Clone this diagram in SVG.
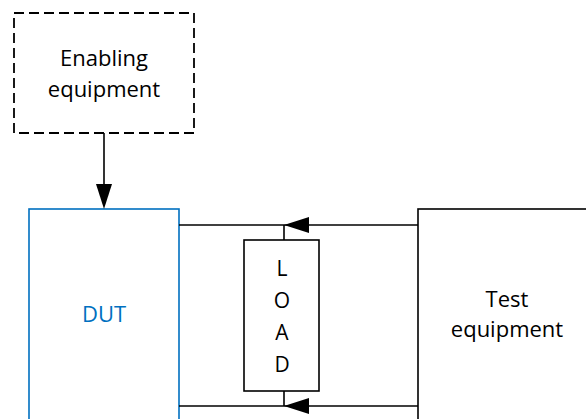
<svg xmlns="http://www.w3.org/2000/svg" width="586" height="419" viewBox="0 0 586 419">
<style>
  .lbl { font-family: "Open Sans", "Noto Sans", sans-serif; font-size: 22px; fill: #000; text-anchor: middle; }
  .ld { font-size: 21px; }
  .box { fill: #fff; stroke: #000; stroke-width: 1.6; }
  .wire { fill: none; stroke: #000; stroke-width: 1.6; }
  .head { fill: #000; stroke: none; }
</style>
<rect width="586" height="419" fill="#fff"/>
<g id="enabling">
  <rect x="14" y="13" width="180" height="120" fill="#fff" stroke="#000" stroke-width="1.8" stroke-dasharray="10,5"/>
  <text class="lbl" x="104" y="66">Enabling</text>
  <text class="lbl" x="104" y="97">equipment</text>
</g>
<g id="dut">
  <rect x="29" y="209" width="150" height="220" fill="#fff" stroke="#0070C0" stroke-width="1.6"/>
  <text class="lbl" x="104" y="322" style="fill:#0070C0">DUT</text>
</g>
<g id="test">
  <rect x="418" y="209" width="180" height="220" class="box"/>
  <text class="lbl" x="507" y="307">Test</text>
  <text class="lbl" x="507" y="337">equipment</text>
</g>
<g id="connectors">
  <path class="wire" d="M104,133 V186"/>
  <polygon class="head" points="104,209 96,184 112,184"/>
  <path class="wire" d="M418,225 H179"/>
  <polygon class="head" points="284,225 309,217 309,233"/>
  <path class="wire" d="M284,225 V240"/>
  <path class="wire" d="M418,406 H179"/>
  <polygon class="head" points="284,406 309,398 309,414"/>
  <path class="wire" d="M284,391 V406"/>
</g>
<g id="load">
  <rect x="244" y="240" width="75" height="151" class="box"/>
  <text class="lbl ld" x="282" y="276">L</text>
  <text class="lbl ld" x="282" y="308">O</text>
  <text class="lbl ld" x="282" y="340">A</text>
  <text class="lbl ld" x="282" y="372">D</text>
</g>
</svg>
